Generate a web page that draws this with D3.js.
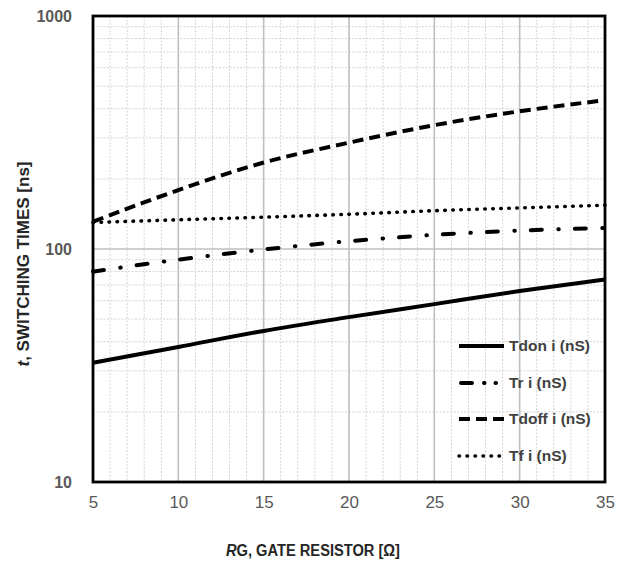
<!DOCTYPE html>
<html>
<head>
<meta charset="utf-8">
<script src="https://cdn.jsdelivr.net/npm/d3@7"></script>
<style>
  body { margin: 0; background: #fff; }
  svg { display: block; }
</style>
</head>
<body>
<div id="chart"></div>
<script>
// gate resistor values (ohm)
const rg = [5, 10, 15, 20, 25, 30, 35];

// switching times in ns
const tdon  = [32.5, 38, 44.5, 51, 58, 66, 74];
const tr    = [80, 90, 99.5, 108, 115, 120, 123];
const tdoff = [131, 179, 235, 286, 340, 390, 435];
const tf    = [130, 133.5, 137, 141, 146, 150, 154];

const xTicks = [5, 10, 15, 20, 25, 30, 35];
const yTicks = [10, 100, 1000];
const seriesNames = ["Tdon i (nS)", "Tr i (nS)", "Tdoff i (nS)", "Tf i (nS)"];

const width = 627, height = 562;
const plotLeft = 93, plotRight = 605, plotTop = 16, plotBottom = 482;

const x = d3.scaleLinear().domain([5, 35]).range([plotLeft, plotRight]);
const y = d3.scaleLog().domain([10, 1000]).range([plotBottom, plotTop]);

const svg = d3.select("#chart").append("svg")
  .attr("width", width)
  .attr("height", height);

// minor grid
const minorX = d3.range(5, 36).filter(v => v % 5 != 0);
const minorY = [];
[10, 100].forEach(d => { for (let k = 2; k <= 9; k++) minorY.push(d * k); });

svg.append("g").selectAll("line").data(minorX).join("line")
  .attr("x1", d => x(d)).attr("x2", d => x(d))
  .attr("y1", plotTop).attr("y2", plotBottom)
  .attr("stroke", "#d4d4d4").attr("stroke-width", 1)
  .attr("stroke-dasharray", "2,1.5");

svg.append("g").selectAll("line").data(minorY).join("line")
  .attr("y1", d => y(d)).attr("y2", d => y(d))
  .attr("x1", plotLeft).attr("x2", plotRight)
  .attr("stroke", "#d4d4d4").attr("stroke-width", 1)
  .attr("stroke-dasharray", "2,1.5");

// major grid
svg.append("g").selectAll("line").data(xTicks.slice(1, -1)).join("line")
  .attr("x1", d => x(d)).attr("x2", d => x(d))
  .attr("y1", plotTop).attr("y2", plotBottom)
  .attr("stroke", "#bfbfbf").attr("stroke-width", 1.6);

svg.append("g").selectAll("line").data([100]).join("line")
  .attr("y1", d => y(d)).attr("y2", d => y(d))
  .attr("x1", plotLeft).attr("x2", plotRight)
  .attr("stroke", "#bfbfbf").attr("stroke-width", 1.6);

// axes (labels only)
const yAxis = svg.append("g")
  .attr("transform", `translate(${plotLeft},0)`)
  .call(d3.axisLeft(y).tickValues(yTicks).tickFormat(d3.format("d")).tickSize(0).tickPadding(21));
const xAxis = svg.append("g")
  .attr("transform", `translate(0,${plotBottom})`)
  .call(d3.axisBottom(x).tickValues(xTicks).tickSize(0).tickPadding(14));

[yAxis, xAxis].forEach(a => {
  a.select(".domain").remove();
  a.selectAll("text")
    .attr("fill", "#595959")
    .style("font-family", "'Liberation Sans', Arial, sans-serif")
    .style("font-size", "16px");
});
yAxis.selectAll("text").style("font-weight", "bold");
xAxis.selectAll("text").style("font-size", "17px");

// lines
const line = d3.line()
  .x(d => x(d[0]))
  .y(d => y(d[1]))
  .curve(d3.curveMonotoneX);

const styles = [
  { dash: null, cap: "butt" },
  { dash: "11,16.5,0.5,16", cap: "round" },
  { dash: "11,6", cap: "butt" },
  { dash: "0.5,7.5", cap: "round" }
];
const allSeries = [tdon, tr, tdoff, tf];

allSeries.forEach((s, i) => {
  svg.append("path")
    .datum(rg.map((r, j) => [r, s[j]]))
    .attr("d", line)
    .attr("fill", "none")
    .attr("stroke", "#000")
    .attr("stroke-width", i == 3 ? 3.6 : 4)
    .attr("stroke-linecap", styles[i].cap)
    .attr("stroke-dasharray", styles[i].dash);
});

// frame
svg.append("rect")
  .attr("x", plotLeft).attr("y", plotTop)
  .attr("width", plotRight - plotLeft).attr("height", plotBottom - plotTop)
  .attr("fill", "none")
  .attr("stroke", "#000")
  .attr("stroke-width", 2.8);

// legend
const legend = svg.append("g");
const legendY = [346, 383, 419, 456];
seriesNames.forEach((name, i) => {
  legend.append("line")
    .attr("x1", i == 1 ? 461 : 459).attr("x2", 504)
    .attr("y1", legendY[i]).attr("y2", legendY[i])
    .attr("stroke", "#000")
    .attr("stroke-width", i == 3 ? 3.6 : 4)
    .attr("stroke-linecap", styles[i].cap)
    .attr("stroke-dasharray", i == 1 ? "11,12,0.5,11,0.5,20" : styles[i].dash);
  legend.append("text")
    .attr("x", 509).attr("y", legendY[i])
    .attr("dy", "0.35em")
    .attr("fill", "#404040")
    .style("font-family", "'Liberation Sans Narrow', 'Liberation Sans', Arial, sans-serif")
    .style("font-weight", "bold")
    .style("font-size", "15.5px")
    .text(name);
});

// axis titles
const titleFont = "'Liberation Sans Narrow', 'Liberation Sans', Arial, sans-serif";
const yTitle = svg.append("text")
  .attr("transform", "translate(29,264) rotate(-90)")
  .attr("text-anchor", "middle")
  .attr("fill", "#262626")
  .attr("textLength", 205)
  .attr("lengthAdjust", "spacingAndGlyphs")
  .style("font-family", titleFont)
  .style("font-weight", "bold")
  .style("font-size", "16px");
yTitle.append("tspan").style("font-style", "italic").text("t");
yTitle.append("tspan").text(", SWITCHING TIMES [ns]");

const xTitle = svg.append("text")
  .attr("x", 313).attr("y", 556)
  .attr("text-anchor", "middle")
  .attr("fill", "#262626")
  .attr("textLength", 174)
  .attr("lengthAdjust", "spacingAndGlyphs")
  .style("font-family", titleFont)
  .style("font-weight", "bold")
  .style("font-size", "16px");
xTitle.append("tspan").style("font-style", "italic").text("R");
xTitle.append("tspan").text("G, GATE RESISTOR [Ω]");
</script>
</body>
</html>
